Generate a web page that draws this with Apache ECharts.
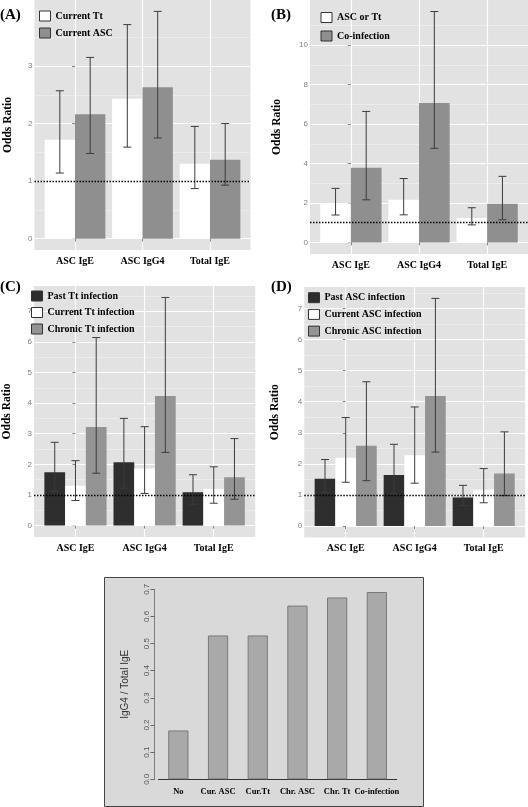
<!DOCTYPE html>
<html><head><meta charset="utf-8">
<script src="https://cdn.jsdelivr.net/npm/echarts@6/dist/echarts.min.js"></script>
<style>html,body{margin:0;padding:0;background:#fff}#c{width:528px;height:807px}</style>
</head><body><div id="c"></div>
<script>
// ---------- data ----------
const catsOR = ['ASC IgE', 'ASC IgG4', 'Total IgE'];

// Panel A
const aTt = [1.72, 2.43, 1.30], aTtLo = [1.14, 1.59, 0.87], aTtHi = [2.57, 3.72, 1.95];
const aAsc = [2.16, 2.63, 1.37], aAscLo = [1.48, 1.75, 0.93], aAscHi = [3.15, 3.95, 2.00];
const aTicks = [0, 1, 2, 3], aMinor = [0.5, 1.5, 2.5, 3.5];

// Panel B
const bOne = [1.97, 2.16, 1.24], bOneLo = [1.39, 1.40, 0.89], bOneHi = [2.74, 3.24, 1.76];
const bCo = [3.78, 7.06, 1.96], bCoLo = [2.16, 4.77, 1.15], bCoHi = [6.64, 11.7, 3.35];
const bTicks = [0, 2, 4, 6, 8, 10], bMinor = [1, 3, 5, 7, 9, 11];

// Panel C
const cPast = [1.74, 2.07, 1.09], cPastLo = [1.12, 1.22, 0.70], cPastHi = [2.72, 3.50, 1.66];
const cCur = [1.30, 1.86, 1.20], cCurLo = [0.82, 1.05, 0.73], cCurHi = [2.12, 3.23, 1.92];
const cChr = [3.22, 4.23, 1.58], cChrLo = [1.71, 2.39, 0.86], cChrHi = [6.14, 7.45, 2.84];

// Panel D
const dPast = [1.52, 1.64, 0.92], dPastLo = [1.08, 1.04, 0.66], dPastHi = [2.14, 2.63, 1.31];
const dCur = [2.20, 2.28, 1.17], dCurLo = [1.41, 1.38, 0.75], dCurHi = [3.49, 3.83, 1.85];
const dChr = [2.58, 4.18, 1.69], dChrLo = [1.46, 2.38, 0.98], dChrHi = [4.64, 7.32, 3.03];
const cdTicks = [0, 1, 2, 3, 4, 5, 6, 7], cdMinor = [0.5, 1.5, 2.5, 3.5, 4.5, 5.5, 6.5, 7.5];

// Panel E
const eCats = ['No', 'Cur. ASC', 'Cur.Tt', 'Chr. ASC', 'Chr. Tt', 'Co-infection'];
const eVals = [0.18, 0.53, 0.53, 0.64, 0.67, 0.69];

const refLine = 1;

// ---------- styles ----------
const SERIF = 'Liberation Serif';
const SANS = 'Liberation Sans';
const PANEL_BG = '#e2e2e2';
const WHITE = '#ffffff', GREY = '#8f8f8f', CHRON = '#949494', DARK = '#2e2e2e';
const ERR = '#3c3c3c';

// ---------- helpers ----------
function dodge(cat, k, n) { return cat - 0.45 + (k + 0.5) * 0.9 / n; }

function barSeries(name, g, vals, k, n, color) {
  return {
    type: 'custom', name, xAxisIndex: g, yAxisIndex: g, z: 2,
    itemStyle: { color },
    data: vals.map((v, i) => [i, v]),
    encode: { x: 0, y: 1 },
    renderItem(params, api) {
      const c = api.value(0), v = api.value(1);
      const xc = dodge(c, k, n), hw = 0.45 / n;
      const p0 = api.coord([xc - hw, v]), p1 = api.coord([xc + hw, 0]);
      return { type: 'rect', shape: { x: p0[0], y: p0[1], width: p1[0] - p0[0], height: p1[1] - p0[1] },
               style: { fill: color } };
    }
  };
}
function errSeries(name, g, lo, hi, k, n) {
  return {
    type: 'custom', name, xAxisIndex: g, yAxisIndex: g, z: 4,
    data: lo.map((l, i) => [i, l, hi[i]]),
    encode: { x: 0, y: [1, 2] },
    renderItem(params, api) {
      const xc = dodge(api.value(0), k, n);
      const pl = api.coord([xc, api.value(1)]), ph = api.coord([xc, api.value(2)]);
      const cw = 4;
      const st = { stroke: ERR, lineWidth: 1, fill: null };
      return { type: 'group', children: [
        { type: 'line', shape: { x1: pl[0], y1: pl[1], x2: ph[0], y2: ph[1] }, style: st },
        { type: 'line', shape: { x1: pl[0] - cw, y1: pl[1], x2: pl[0] + cw, y2: pl[1] }, style: st },
        { type: 'line', shape: { x1: ph[0] - cw, y1: ph[1], x2: ph[0] + cw, y2: ph[1] }, style: st }
      ]};
    }
  };
}
function refSeries(g) {
  return {
    type: 'line', name: 'ref' + g, xAxisIndex: g, yAxisIndex: g, data: [], z: 5,
    markLine: { silent: true, symbol: 'none', animation: false,
      label: { show: false },
      lineStyle: { color: '#000', width: 1.4, type: [1.5, 1.5] },
      data: [{ yAxis: refLine }] }
  };
}
function xAx(g) {
  return {
    type: 'value', gridIndex: g, min: -0.6, max: 2.6,
    axisLine: { show: false },
    axisTick: { show: true, length: 3, lineStyle: { color: '#888' }, customValues: [0, 1, 2] },
    axisLabel: { show: true, customValues: [0, 1, 2], margin: 6,
      formatter: v => catsOR[Math.round(v)],
      fontFamily: SERIF, fontWeight: 'bold', fontSize: 10, color: '#000' },
    splitLine: { show: true, lineStyle: { color: '#ffffff', width: 1.2 } }
  };
}
function yAx(g, ticks, maxData, nameGap) {
  return {
    type: 'value', gridIndex: g, min: -0.05 * maxData, max: 1.05 * maxData,
    name: 'Odds Ratio', nameLocation: 'middle', nameGap,
    nameTextStyle: { fontFamily: SERIF, fontWeight: 'bold', fontSize: 11.5, color: '#000' },
    axisLine: { show: false },
    axisTick: { show: true, length: 3, lineStyle: { color: '#888' }, customValues: ticks },
    axisLabel: { show: true, customValues: ticks, margin: 2, fontFamily: SANS, fontSize: 8, color: '#7f7f7f' },
    splitLine: { show: true, lineStyle: { color: '#ffffff', width: 1.2 } }
  };
}
function yMinor(g, minor, maxData) {
  return {
    type: 'value', gridIndex: g, min: -0.05 * maxData, max: 1.05 * maxData, position: 'left',
    axisLine: { show: false }, axisLabel: { show: false },
    axisTick: { show: false, customValues: minor },
    splitLine: { show: true, lineStyle: { color: '#f0f0f0', width: 0.7 } }
  };
}
function legendFor(names, left, top, gap) {
  return {
    data: names, left, top, orient: 'vertical', icon: 'rect', padding: 0,
    itemWidth: 11, itemHeight: 10, itemGap: gap, selectedMode: false,
    itemStyle: { borderColor: '#333', borderWidth: 1 },
    textStyle: { fontFamily: SERIF, fontWeight: 'bold', fontSize: 10, lineHeight: 12, color: '#000' }
  };
}

const maxA = Math.max(...aTtHi, ...aAscHi);
const maxB = Math.max(...bOneHi, ...bCoHi);
const maxC = Math.max(...cPastHi, ...cCurHi, ...cChrHi);
const maxD = Math.max(...dPastHi, ...dCurHi, ...dChrHi);

const option = {
  animation: false,
  grid: [
    { left: 34.5, top: 0, width: 216, height: 250, show: true, backgroundColor: PANEL_BG, borderWidth: 0 },
    { left: 310, top: 0, width: 218, height: 254, show: true, backgroundColor: PANEL_BG, borderWidth: 0 },
    { left: 26.6, top: 286, width: 228.6, height: 251, show: true, backgroundColor: PANEL_BG, borderWidth: 0 },
    { left: 304.3, top: 287, width: 220.8, height: 250.5, show: true, backgroundColor: PANEL_BG, borderWidth: 0 },
    { left: 158.5, top: 589.3, width: 238.2, height: 190, show: false }
  ],
  xAxis: [
    xAx(0), xAx(1), xAx(2), xAx(3),
    { type: 'category', gridIndex: 4, data: eCats,
      axisLine: { show: true, lineStyle: { color: '#333', width: 1 } },
      axisTick: { show: false },
      axisLabel: { interval: 0, margin: 8, fontFamily: SERIF, fontWeight: 'bold', fontSize: 8.5, color: '#000' } }
  ],
  yAxis: [
    yAx(0, aTicks, maxA, 20), yAx(1, bTicks, maxB, 27), yAx(2, cdTicks, maxC, 21), yAx(3, cdTicks, maxD, 23),
    { type: 'value', gridIndex: 4, min: 0, max: 0.7, interval: 0.1, offset: 4,
      name: 'IgG4 / Total IgE', nameLocation: 'middle', nameGap: 24,
      nameTextStyle: { fontFamily: SANS, fontSize: 10, color: '#333' },
      axisLine: { show: true, lineStyle: { color: '#666', width: 0.8 } },
      axisTick: { show: true, length: 4, lineStyle: { color: '#666' } },
      axisLabel: { rotate: 90, margin: 4, fontFamily: SANS, fontSize: 8, color: '#555',
        formatter: v => v.toFixed(1) },
      splitLine: { show: false } },
    yMinor(0, aMinor, maxA), yMinor(1, bMinor, maxB), yMinor(2, cdMinor, maxC), yMinor(3, cdMinor, maxD)
  ],
  legend: [
    legendFor(['Current Tt', 'Current ASC'], 39, 10, 5),
    legendFor(['ASC or Tt', 'Co-infection'], 320.5, 11.5, 6.5),
    legendFor(['Past Tt infection', 'Current Tt infection', 'Chronic Tt infection'], 31, 290, 4.5),
    legendFor(['Past ASC infection', 'Current ASC infection', 'Chronic ASC infection'], 308, 291.7, 4.7)
  ],
  graphic: [
    { type: 'rect', left: 104, top: 577, z: -1, shape: { width: 319, height: 229 },
      style: { fill: '#d9d9d9', stroke: '#444', lineWidth: 1 } },
    { type: 'text', left: 0, top: 8, style: { text: '(A)', font: 'bold 15px "Liberation Serif"', fill: '#000' } },
    { type: 'text', left: 271, top: 8, style: { text: '(B)', font: 'bold 15px "Liberation Serif"', fill: '#000' } },
    { type: 'text', left: 0, top: 280, style: { text: '(C)', font: 'bold 15px "Liberation Serif"', fill: '#000' } },
    { type: 'text', left: 271, top: 280, style: { text: '(D)', font: 'bold 15px "Liberation Serif"', fill: '#000' } }
  ],
  series: [
    barSeries('Current Tt', 0, aTt, 0, 2, WHITE),
    barSeries('Current ASC', 0, aAsc, 1, 2, GREY),
    errSeries('eA1', 0, aTtLo, aTtHi, 0, 2),
    errSeries('eA2', 0, aAscLo, aAscHi, 1, 2),
    refSeries(0),

    barSeries('ASC or Tt', 1, bOne, 0, 2, WHITE),
    barSeries('Co-infection', 1, bCo, 1, 2, GREY),
    errSeries('eB1', 1, bOneLo, bOneHi, 0, 2),
    errSeries('eB2', 1, bCoLo, bCoHi, 1, 2),
    refSeries(1),

    barSeries('Past Tt infection', 2, cPast, 0, 3, DARK),
    barSeries('Current Tt infection', 2, cCur, 1, 3, WHITE),
    barSeries('Chronic Tt infection', 2, cChr, 2, 3, CHRON),
    errSeries('eC1', 2, cPastLo, cPastHi, 0, 3),
    errSeries('eC2', 2, cCurLo, cCurHi, 1, 3),
    errSeries('eC3', 2, cChrLo, cChrHi, 2, 3),
    refSeries(2),

    barSeries('Past ASC infection', 3, dPast, 0, 3, DARK),
    barSeries('Current ASC infection', 3, dCur, 1, 3, WHITE),
    barSeries('Chronic ASC infection', 3, dChr, 2, 3, CHRON),
    errSeries('eD1', 3, dPastLo, dPastHi, 0, 3),
    errSeries('eD2', 3, dCurLo, dCurHi, 1, 3),
    errSeries('eD3', 3, dChrLo, dChrHi, 2, 3),
    refSeries(3),

    { type: 'bar', name: 'ratio', xAxisIndex: 4, yAxisIndex: 4, data: eVals, barCategoryGap: '49%',
      itemStyle: { color: '#a9a9a9', borderColor: '#7a7a7a', borderWidth: 1 } }
  ]
};
const chart = echarts.init(document.getElementById('c'), null, { renderer: 'canvas' });
chart.setOption(option);
</script>
</body></html>
